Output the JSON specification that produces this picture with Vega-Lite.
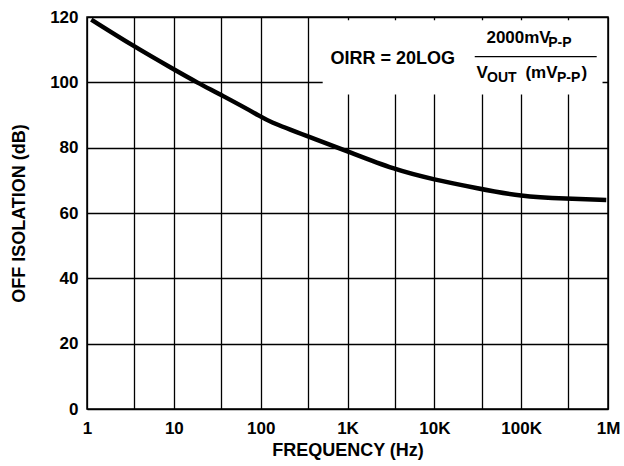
{
  "$schema": "https://vega.github.io/schema/vega-lite/v6.json",
  "width": 521,
  "height": 392,
  "autosize": {"type": "none"},
  "padding": {"left": 87, "top": 17, "right": 16, "bottom": 57},
  "background": "white",
  "config": {
    "view": {"stroke": "black", "strokeWidth": 1.5},
    "font": "Liberation Sans",
    "axis": {
      "domain": false,
      "ticks": false,
      "grid": true,
      "gridColor": "black",
      "gridWidth": 1.3,
      "gridOpacity": 1,
      "labelFont": "Liberation Sans",
      "labelFontWeight": "bold",
      "labelFontSize": 17,
      "labelColor": "black",
      "titleFont": "Liberation Sans",
      "titleFontWeight": "bold",
      "titleFontSize": 18,
      "titleColor": "black"
    }
  },
  "layer": [
    {
      "data": {"values": [
        {"freq": 1.12, "db": 119.2},
        {"freq": 3.46, "db": 111.0},
        {"freq": 9.8, "db": 104.1},
        {"freq": 18.9, "db": 99.8},
        {"freq": 34.9, "db": 96.2},
        {"freq": 100, "db": 89.6},
        {"freq": 119, "db": 88.2},
        {"freq": 353, "db": 83.4},
        {"freq": 1000, "db": 78.9},
        {"freq": 3435, "db": 73.3},
        {"freq": 10000, "db": 70.2},
        {"freq": 29700, "db": 67.7},
        {"freq": 100000, "db": 65.0},
        {"freq": 333000, "db": 64.4},
        {"freq": 955000, "db": 64.0}
      ]},
      "mark": {"type": "line", "color": "black", "strokeWidth": 4.5, "interpolate": "basis"},
      "encoding": {
        "x": {
          "field": "freq", "type": "quantitative",
          "scale": {"type": "log", "domain": [1, 1000000], "nice": false},
          "axis": {
            "title": "FREQUENCY (Hz)",
            "values": [1, 3.5, 10, 35, 100, 350, 1000, 3500, 10000, 35000, 100000, 350000, 1000000],
            "labelExpr": "datum.value == 1 ? '1' : datum.value == 10 ? '10' : datum.value == 100 ? '100' : datum.value == 1000 ? '1K' : datum.value == 10000 ? '10K' : datum.value == 100000 ? '100K' : datum.value == 1000000 ? '1M' : ''",
            "labelPadding": 11,
            "titlePadding": 5,
            "labelFlush": false,
            "labelOverlap": false
          }
        },
        "y": {
          "field": "db", "type": "quantitative",
          "scale": {"domain": [0, 120], "nice": false, "zero": true},
          "axis": {
            "title": "OFF ISOLATION (dB)",
            "values": [0, 20, 40, 60, 80, 100, 120],
            "labelPadding": 9,
            "titlePadding": 21
          }
        }
      }
    },
    {
      "data": {"values": [{}]},
      "mark": {"type": "rect", "color": "white", "opacity": 1},
      "encoding": {
        "x": {"datum": 518, "type": "quantitative"},
        "x2": {"datum": 865000},
        "y": {"datum": 119.0, "type": "quantitative"},
        "y2": {"datum": 96.3}
      }
    },
    {
      "data": {"values": [{}]},
      "mark": {"type": "rule", "color": "black", "strokeWidth": 1.3},
      "encoding": {
        "x": {"datum": 29200, "type": "quantitative"},
        "x2": {"datum": 741000},
        "y": {"datum": 107.9, "type": "quantitative"}
      }
    },
    {
      "data": {"values": [{}]},
      "mark": {"type": "text", "text": "OIRR = 20LOG", "font": "Liberation Sans", "fontWeight": "bold", "fontSize": 18, "align": "center", "baseline": "alphabetic", "color": "black"},
      "encoding": {
        "x": {"datum": 3318, "type": "quantitative"},
        "y": {"datum": 105.7, "type": "quantitative"}
      }
    },
    {
      "data": {"values": [{}]},
      "mark": {"type": "text", "text": "2000mV", "font": "Liberation Sans", "fontWeight": "bold", "fontSize": 17, "align": "left", "baseline": "alphabetic", "color": "black"},
      "encoding": {
        "x": {"datum": 39800, "type": "quantitative"},
        "y": {"datum": 112.0, "type": "quantitative"}
      }
    },
    {
      "data": {"values": [{}]},
      "mark": {"type": "text", "text": "P-P", "font": "Liberation Sans", "fontWeight": "bold", "fontSize": 14, "align": "left", "baseline": "alphabetic", "color": "black"},
      "encoding": {
        "x": {"datum": 205000, "type": "quantitative"},
        "y": {"datum": 110.8, "type": "quantitative"}
      }
    },
    {
      "data": {"values": [{}]},
      "mark": {"type": "text", "text": "V", "font": "Liberation Sans", "fontWeight": "bold", "fontSize": 17, "align": "left", "baseline": "alphabetic", "color": "black"},
      "encoding": {
        "x": {"datum": 30500, "type": "quantitative"},
        "y": {"datum": 101.4, "type": "quantitative"}
      }
    },
    {
      "data": {"values": [{}]},
      "mark": {"type": "text", "text": "OUT", "font": "Liberation Sans", "fontWeight": "bold", "fontSize": 14, "align": "left", "baseline": "alphabetic", "color": "black"},
      "encoding": {
        "x": {"datum": 40500, "type": "quantitative"},
        "y": {"datum": 100.1, "type": "quantitative"}
      }
    },
    {
      "data": {"values": [{}]},
      "mark": {"type": "text", "text": "(mV", "font": "Liberation Sans", "fontWeight": "bold", "fontSize": 17, "align": "left", "baseline": "alphabetic", "color": "black"},
      "encoding": {
        "x": {"datum": 112000, "type": "quantitative"},
        "y": {"datum": 101.4, "type": "quantitative"}
      }
    },
    {
      "data": {"values": [{}]},
      "mark": {"type": "text", "text": "P-P", "font": "Liberation Sans", "fontWeight": "bold", "fontSize": 14, "align": "left", "baseline": "alphabetic", "color": "black"},
      "encoding": {
        "x": {"datum": 258000, "type": "quantitative"},
        "y": {"datum": 100.1, "type": "quantitative"}
      }
    },
    {
      "data": {"values": [{}]},
      "mark": {"type": "text", "text": ")", "font": "Liberation Sans", "fontWeight": "bold", "fontSize": 17, "align": "left", "baseline": "alphabetic", "color": "black"},
      "encoding": {
        "x": {"datum": 495000, "type": "quantitative"},
        "y": {"datum": 101.4, "type": "quantitative"}
      }
    }
  ]
}
